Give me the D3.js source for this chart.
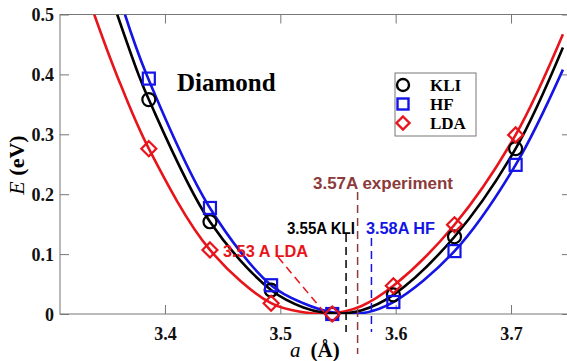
<!DOCTYPE html>
<html>
<head>
<meta charset="utf-8">
<script src="https://cdn.jsdelivr.net/npm/d3@7"></script>
<style>
  body { margin: 0; background: #fff; }
  svg { display: block; }
  .serif { font-family: "Liberation Serif", "Times New Roman", serif; font-weight: bold; }
  .note { font-family: "Liberation Sans", Arial, sans-serif; font-weight: bold; font-size: 16px; }
</style>
</head>
<body>
<svg width="567" height="361"></svg>
<script>
const svg = d3.select("svg");

// lattice constants where the energies were computed
const latticeA = [3.386, 3.439, 3.492, 3.545, 3.598, 3.651, 3.704];
const kliE = [0.358, 0.154, 0.04, 0, 0.032, 0.129, 0.276];
const hfE = [0.393, 0.177, 0.048, 0, 0.02, 0.105, 0.249];
const ldaE = [0.276, 0.107, 0.018, 0, 0.047, 0.149, 0.299];

// fitted curves
const kliCurveA = [3.3586, 3.377, 3.386, 3.439, 3.492, 3.52, 3.545, 3.57, 3.598, 3.651, 3.704, 3.745];
const kliCurveE = [0.5, 0.4, 0.358, 0.154, 0.04, 0.011, 0.001, 0.006, 0.032, 0.129, 0.276, 0.445];
const hfCurveA = [3.3653, 3.384, 3.439, 3.492, 3.52, 3.545, 3.57, 3.598, 3.651, 3.704, 3.745];
const hfCurveE = [0.5, 0.4, 0.177, 0.048, 0.018, 0.003, 0.001, 0.02, 0.105, 0.249, 0.408];
const ldaCurveA = [3.3387, 3.358, 3.386, 3.439, 3.492, 3.52, 3.545, 3.57, 3.598, 3.651, 3.704, 3.745];
const ldaCurveE = [0.5, 0.4, 0.276, 0.107, 0.018, 0.003, 0.001, 0.013, 0.047, 0.149, 0.299, 0.467];

// equilibrium markers (dashed lines)
const eqA = [3.557, 3.579, 3.567];

const xTicks = [3.4, 3.5, 3.6, 3.7];
const yTicks = [0, 0.1, 0.2, 0.3, 0.4, 0.5];

const mLeft = 60, mRight = 571, mTop = 14.5, mBottom = 314;

const x = d3.scaleLinear().domain([3.309, 3.752]).range([mLeft, mRight]);
const y = d3.scaleLinear().domain([0, 0.5]).range([mBottom, mTop]);

const RED = "#e8141b", BLUE = "#1414e6", BROWN = "#8c3a3a";

svg.append("defs").append("clipPath").attr("id", "plot")
  .append("rect").attr("x", mLeft).attr("y", mTop).attr("width", mRight - mLeft).attr("height", mBottom - mTop);

// frame + inward ticks
const frame = svg.append("g").attr("stroke", "#777").attr("stroke-width", 1).attr("fill", "none");
frame.append("rect").attr("x", mLeft).attr("y", mTop).attr("width", mRight - mLeft).attr("height", mBottom - mTop);

const axB = svg.append("g").attr("transform", `translate(0,${mBottom})`)
  .call(d3.axisBottom(x).tickValues(xTicks).tickSize(-9).tickPadding(13).tickFormat(d3.format(".1f")));
const axT = svg.append("g").attr("transform", `translate(0,${mTop})`)
  .call(d3.axisTop(x).tickValues(xTicks).tickSize(-9).tickFormat(""));
const axL = svg.append("g").attr("transform", `translate(${mLeft},0)`)
  .call(d3.axisLeft(y).tickValues(yTicks).tickSize(-9).tickPadding(6).tickFormat(d => d === 0 ? "0" : d3.format(".1f")(d)));
const axR = svg.append("g").attr("transform", `translate(${mRight},0)`)
  .call(d3.axisRight(y).tickValues(yTicks).tickSize(-9).tickFormat(""));
[axB, axT, axL, axR].forEach(a => {
  a.select(".domain").remove();
  a.selectAll(".tick line").attr("stroke", "#777");
  a.selectAll(".tick text").attr("class", "serif").attr("fill", "#111").style("font-size", "18px");
});
axL.selectAll(".tick text").attr("dy", "0.36em");

// curves
const line = d3.line().x(d => x(d[0])).y(d => y(d[1])).curve(d3.curveCatmullRom.alpha(0.5));
const curves = svg.append("g").attr("clip-path", "url(#plot)").attr("fill", "none").attr("stroke-width", 2.6);
curves.append("path").attr("d", line(d3.zip(ldaCurveA, ldaCurveE))).attr("stroke", RED);
curves.append("path").attr("d", line(d3.zip(hfCurveA, hfCurveE))).attr("stroke", BLUE);
curves.append("path").attr("d", line(d3.zip(kliCurveA, kliCurveE))).attr("stroke", "#000");

// dashed guides
const guides = svg.append("g").attr("fill", "none").attr("stroke-width", 1.5).attr("stroke-dasharray", "8,5");
guides.append("line").attr("x1", x(eqA[0])).attr("x2", x(eqA[0])).attr("y1", 234).attr("y2", 332).attr("stroke", "#000");
guides.append("line").attr("x1", x(eqA[1])).attr("x2", x(eqA[1])).attr("y1", 238).attr("y2", 332).attr("stroke", BLUE);
guides.append("line").attr("x1", x(eqA[2])).attr("x2", x(eqA[2])).attr("y1", 192).attr("y2", 354).attr("stroke", BROWN);
guides.append("line").attr("x1", x(3.498)).attr("y1", y(0.095)).attr("x2", x(3.538)).attr("y2", y(0.003)).attr("stroke", RED);

// markers
const pts = svg.append("g").attr("fill", "none").attr("stroke-width", 2.2);
const kliPts = d3.zip(latticeA, kliE), hfPts = d3.zip(latticeA, hfE), ldaPts = d3.zip(latticeA, ldaE);
pts.selectAll(".kli").data(kliPts).join("circle").attr("class", "kli")
  .attr("cx", d => x(d[0])).attr("cy", d => y(d[1])).attr("r", 6.5).attr("stroke", "#000");
pts.selectAll(".hf").data(hfPts).join("rect").attr("class", "hf")
  .attr("x", d => x(d[0]) - 6).attr("y", d => y(d[1]) - 6).attr("width", 12).attr("height", 12).attr("stroke", BLUE);
pts.selectAll(".lda").data(ldaPts).join("path").attr("class", "lda")
  .attr("d", d => `M${x(d[0])},${y(d[1]) - 7.5}l7.5,7.5l-7.5,7.5l-7.5,-7.5z`).attr("stroke", RED);

// legend
const lg = svg.append("g");
lg.append("rect").attr("x", 395).attr("y", 73).attr("width", 81).attr("height", 63)
  .attr("fill", "#fff").attr("stroke", "#777").attr("stroke-width", 1);
const legendItems = ["KLI", "HF", "LDA"];
const ly = [85, 104, 123];
lg.append("circle").attr("cx", 403).attr("cy", ly[0]).attr("r", 6).attr("fill", "none").attr("stroke", "#000").attr("stroke-width", 2.4);
lg.append("rect").attr("x", 397.5).attr("y", ly[1] - 5.5).attr("width", 11).attr("height", 11).attr("fill", "none").attr("stroke", BLUE).attr("stroke-width", 2.4);
lg.append("path").attr("d", `M403,${ly[2] - 6.5}l6.5,6.5l-6.5,6.5l-6.5,-6.5z`).attr("fill", "none").attr("stroke", RED).attr("stroke-width", 2.4);
lg.selectAll("text").data(legendItems).join("text")
  .attr("x", 430).attr("y", (d, i) => ly[i] + 6)
  .attr("class", "serif").style("font-size", "17px").text(d => d);

// title
svg.append("text").attr("x", 177).attr("y", 91).attr("class", "serif").style("font-size", "25px").text("Diamond");

// notes
const note = (tx, ty, str, color, len) => svg.append("text").attr("x", tx).attr("y", ty)
  .attr("class", "note").attr("fill", color).attr("textLength", len).attr("lengthAdjust", "spacingAndGlyphs").text(str);
note(313, 189, "3.57A experiment", BROWN, 140);
note(287, 234, "3.55A KLI", "#000", 68);
note(366, 234, "3.58A HF", BLUE, 69);
note(223, 257, "3.53 A LDA", RED, 85);

// axis titles
const xt = svg.append("text").attr("x", 290).attr("y", 357).attr("class", "serif").style("font-size", "21px");
xt.append("tspan").attr("font-style", "italic").style("font-weight", "normal").text("a");
xt.append("tspan").attr("dx", 10).text("(Å)");
const yt = svg.append("text").attr("transform", "translate(24,165) rotate(-90)").attr("text-anchor", "middle")
  .attr("class", "serif").style("font-size", "22px");
yt.append("tspan").attr("font-style", "italic").style("font-weight", "normal").text("E");
yt.append("tspan").text(" (eV)");
</script>
</body>
</html>
